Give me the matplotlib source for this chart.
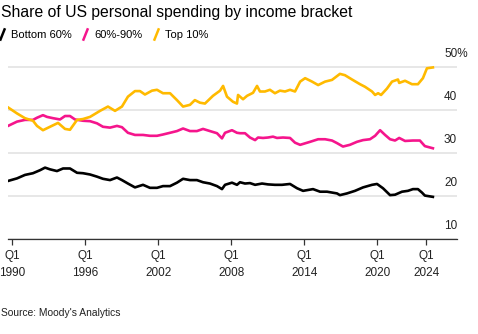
import matplotlib
matplotlib.use("Agg")
import matplotlib.pyplot as plt
from matplotlib.lines import Line2D
from matplotlib.path import Path

plt.rcParams["font.family"] = ["Liberation Sans", "DejaVu Sans"]

# share of personal spending (%), decimal years
bottom_years = [1989.65, 1990.39, 1991.04, 1991.70, 1992.28, 1992.69, 1993.10, 1993.67, 1994.17,
                1994.74, 1995.32, 1995.81, 1996.39, 1996.96, 1997.45, 1998.03, 1998.60, 1999.01,
                1999.50, 2000.08, 2000.74, 2001.31, 2001.89, 2002.38, 2002.96, 2003.53, 2004.03,
                2004.60, 2005.17, 2005.67, 2006.24, 2006.82, 2007.23, 2007.48, 2008.05, 2008.46,
                2008.71, 2009.12, 2009.53, 2009.95, 2010.52, 2011.01, 2011.58, 2012.16, 2012.82,
                2013.40, 2013.89, 2014.71, 2015.29, 2015.86, 2016.68, 2016.92, 2017.50, 2018.16,
                2018.82, 2019.56, 2019.97, 2020.46, 2021.04, 2021.45, 2022.02, 2022.51, 2022.92,
                2023.33, 2023.66, 2023.90, 2024.56]
bottom_60 = [23.5, 24.1, 24.9, 25.3, 26.0, 26.6, 26.2, 25.8, 26.4,
             26.4, 25.4, 25.3, 25.0, 24.5, 24.0, 23.7, 24.3, 23.7,
             22.9, 22.0, 22.6, 21.9, 21.9, 22.3, 22.3, 23.1, 24.0,
             23.7, 23.7, 23.2, 22.9, 22.3, 21.6, 22.6, 23.1, 22.6,
             23.2, 22.9, 23.0, 22.6, 22.9, 22.7, 22.6, 22.6, 22.8,
             21.8, 21.2, 21.6, 21.0, 21.0, 20.6, 20.2, 20.6, 21.2,
             22.0, 22.6, 22.8, 21.8, 20.2, 20.3, 21.0, 21.2, 21.6,
             21.6, 20.8, 20.1, 19.8]

middle_years = [1989.65, 1990.39, 1991.04, 1991.70, 1992.03, 1992.52, 1992.85, 1993.34, 1993.92,
                1994.33, 1994.74, 1995.15, 1995.81, 1996.39, 1996.96, 1997.45, 1998.03, 1998.60,
                1999.01, 1999.50, 2000.08, 2000.74, 2001.31, 2001.89, 2002.38, 2002.96, 2003.53,
                2004.03, 2004.60, 2005.17, 2005.67, 2006.24, 2006.82, 2007.23, 2007.48, 2008.05,
                2008.46, 2008.71, 2009.12, 2009.53, 2009.95, 2010.19, 2010.60, 2011.01, 2011.42,
                2011.75, 2012.24, 2012.82, 2013.23, 2013.65, 2014.47, 2015.13, 2015.70, 2016.27,
                2016.68, 2017.17, 2017.74, 2018.32, 2018.82, 2019.39, 2019.81, 2020.22, 2020.63,
                2021.04, 2021.45, 2021.79, 2022.27, 2022.92, 2023.49, 2023.90, 2024.56]
middle_30 = [36.3, 37.3, 37.7, 37.7, 38.2, 38.8, 38.4, 38.1, 37.8,
             38.6, 38.6, 37.8, 37.5, 37.4, 36.9, 36.1, 35.9, 36.3,
             36.0, 34.7, 34.2, 34.2, 34.0, 34.0, 34.3, 34.7, 35.1,
             35.7, 35.1, 35.1, 35.6, 35.1, 34.6, 33.4, 34.7, 35.3,
             34.7, 34.6, 34.6, 33.6, 33.0, 33.6, 33.5, 33.6, 33.8,
             33.5, 33.6, 33.5, 32.4, 31.9, 32.6, 33.2, 33.2, 32.9,
             32.3, 31.5, 31.9, 32.6, 33.0, 33.2, 34.0, 35.3, 34.2,
             33.2, 32.9, 33.5, 32.8, 32.9, 32.9, 31.6, 31.1]

top_years = [1989.65, 1990.39, 1991.04, 1991.70, 1992.03, 1992.52, 1993.10, 1993.76, 1994.33,
             1994.74, 1995.32, 1995.81, 1996.39, 1997.21, 1997.86, 1998.44, 1999.01, 1999.50,
             2000.08, 2000.49, 2000.90, 2001.48, 2001.89, 2002.38, 2002.96, 2003.53, 2004.03,
             2004.60, 2005.00, 2005.42, 2005.83, 2006.49, 2007.07, 2007.32, 2007.64, 2008.14,
             2008.46, 2008.55, 2008.96, 2009.29, 2009.78, 2010.11, 2010.35, 2010.76, 2011.17,
             2011.58, 2011.99, 2012.41, 2012.82, 2013.23, 2013.65, 2014.06, 2014.63, 2015.13,
             2015.70, 2016.27, 2016.92, 2017.33, 2017.91, 2018.57, 2018.98, 2019.56, 2019.81,
             2020.06, 2020.30, 2020.79, 2021.20, 2021.69, 2021.79, 2022.27, 2022.84, 2023.33,
             2023.74, 2024.07, 2024.56]
top_10 = [40.6, 39.2, 38.1, 37.5, 36.3, 35.3, 36.1, 37.0, 35.6,
          35.4, 37.7, 37.9, 38.4, 39.8, 40.8, 39.8, 40.8, 43.1,
          44.4, 44.4, 43.6, 44.5, 44.7, 43.9, 43.9, 42.3, 40.8,
          41.2, 42.3, 41.7, 41.5, 43.3, 44.5, 45.6, 43.1, 41.9,
          41.5, 43.5, 42.5, 43.3, 44.0, 45.6, 44.3, 44.3, 44.7,
          43.9, 44.5, 44.3, 44.7, 44.3, 46.6, 47.4, 46.6, 45.8,
          46.6, 47.0, 48.4, 48.1, 47.1, 46.0, 45.4, 44.3, 43.5,
          43.9, 43.5, 45.0, 46.6, 47.1, 46.3, 46.8, 46.0, 46.0,
          47.4, 49.7, 49.9]

series_names = ["Bottom 60%", "60%-90%", "Top 10%"]
series_colors = ["#000000", "#f5158c", "#ffba00"]

tick_years = [1990, 1996, 2002, 2008, 2014, 2020, 2024]
tick_labels = ["Q1\n%d" % y for y in tick_years]
y_ticks = [10, 20, 30, 40, 50]
y_labels = ["10", "20", "30", "40", "50%"]

W, H = 478, 334
fig = plt.figure(figsize=(W / 100, H / 100), dpi=100)
ax = fig.add_axes([8 / W, 1 - 239 / H, 449 / W, (239 - 64.85) / H])

for yrs, vals, col in zip([bottom_years, middle_years, top_years],
                          [bottom_60, middle_30, top_10], series_colors):
    ax.plot(yrs, vals, color=col, lw=1.9, solid_joinstyle="round", zorder=3)

ax.set_xlim(1989.647, 2026.54)
ax.set_ylim(10, 50.5)

ax.set_yticks(y_ticks)
ax.yaxis.grid(True, color="#e0e0e0", lw=1.1)
ax.tick_params(axis="y", length=0, labelleft=False)
ax.set_axisbelow(True)
for s in ["top", "left", "right"]:
    ax.spines[s].set_visible(False)
ax.spines["bottom"].set_color("#333333")
ax.spines["bottom"].set_linewidth(0.9)
ax.spines["bottom"].set_zorder(4)

ax.set_xticks(tick_years)
ax.set_xticklabels(tick_labels, fontsize=8.5, linespacing=1.5, color="#222222")
ax.tick_params(axis="x", length=4, width=0.9, color="#333333", pad=4)

for v, lab in zip(y_ticks, y_labels):
    ax.annotate(lab, xy=(1, v), xycoords=("axes fraction", "data"),
                xytext=(-13, 13), textcoords="offset pixels",
                ha="left", va="center", fontsize=8.5, color="#222222")

fig.text(1 / W, 1 - 12 / H, "Share of US personal spending by income bracket",
         fontsize=11.3, color="#000000", ha="left", va="center")
fig.text(1 / W, 1 - 313 / H, "Source: Moody's Analytics",
         fontsize=7.4, color="#222222", ha="left", va="center")

slash = Path([[-0.4, -1.0], [0.4, 1.0]], [Path.MOVETO, Path.LINETO])
handles = [Line2D([], [], linestyle="none", marker=slash, markersize=9,
                  markeredgewidth=1.8, color=c, label=n)
           for n, c in zip(series_names, series_colors)]
fig.legend(handles=handles, loc="center left", bbox_to_anchor=(-2 / W, 1 - 35 / H),
           ncol=3, frameon=False, fontsize=8, handlelength=0.8, handletextpad=0.4,
           columnspacing=0.8, borderaxespad=0, borderpad=0)

fig.savefig("out.png", dpi=100)
